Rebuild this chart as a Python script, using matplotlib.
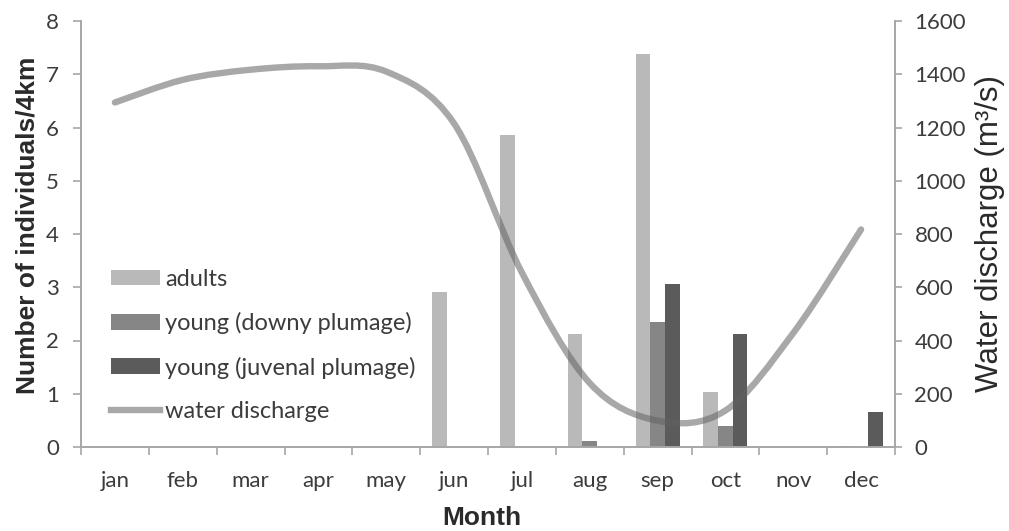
import numpy as np
import matplotlib
matplotlib.use('Agg')
import matplotlib.pyplot as plt
from matplotlib.path import Path
from matplotlib.patches import PathPatch
from matplotlib.lines import Line2D

months = ['jan', 'feb', 'mar', 'apr', 'may', 'jun', 'jul', 'aug', 'sep', 'oct', 'nov', 'dec']
adults = [0, 0, 0, 0, 0, 2.92, 5.86, 2.12, 7.38, 1.04, 0, 0.02]
young_downy = [0, 0, 0, 0, 0, 0, 0, 0.12, 2.35, 0.40, 0, 0]
young_juvenal = [0, 0, 0, 0, 0, 0, 0, 0, 3.06, 2.12, 0, 0.66]
discharge = [1294, 1379, 1417, 1430, 1410, 1215, 655, 240, 99, 137, 428, 817]
series_labels = ['adults', 'young (downy plumage)', 'young (juvenal plumage)']
water_label = 'water discharge'
left_ticks = [0, 1, 2, 3, 4, 5, 6, 7, 8]
right_ticks = [0, 200, 400, 600, 800, 1000, 1200, 1400, 1600]

W, H = 1009, 531
fig = plt.figure(figsize=(W / 100, H / 100), dpi=100)
L, R, B, T = 81, 895, 447, 21
ax = fig.add_axes([L / W, (H - B) / H, (R - L) / W, (B - T) / H])

tick_font = 'Lato'
spine_c = '#a6a6a6'
text_c = '#3c3c3c'

x = np.arange(len(months))
bw = 0.216
colors = ['#b9b9b9', '#868686', '#5b5b5b']
handles = []
for i, (vals, c) in enumerate(zip([adults, young_downy, young_juvenal], colors)):
    h = ax.bar(x + (i - 1) * bw, vals, width=bw, color=c, linewidth=0, zorder=2)
    handles.append(h)

ax.set_xlim(-0.5, len(months) - 0.5)
ax.set_ylim(left_ticks[0], left_ticks[-1])
ax.set_xticks(x)
ax.set_xticklabels(months, fontsize=16, family=tick_font, color=text_c)
ax.set_xticks(np.arange(-0.5, len(months), 1), minor=True)
ax.tick_params(axis='x', which='major', length=0, pad=17)
ax.tick_params(axis='x', which='minor', length=6, width=1.2, color=spine_c, direction='out')
ax.set_yticks(left_ticks)
ax.set_yticklabels([str(v) for v in left_ticks], fontsize=16, family=tick_font, color=text_c)
ax.tick_params(axis='y', length=6, width=1.2, color=spine_c, direction='out', pad=10)

ax.spines['top'].set_visible(False)
for s in ['left', 'bottom', 'right']:
    ax.spines[s].set_color(spine_c)
    ax.spines[s].set_linewidth(1.2)

ax2 = ax.twinx()
ax2.set_ylim(right_ticks[0], right_ticks[-1])
ax2.set_yticks(right_ticks)
ax2.set_yticklabels([str(v) for v in right_ticks], fontsize=16, family=tick_font, color=text_c)
ax2.tick_params(axis='y', length=5, width=1.2, color=spine_c, direction='out', pad=9)
ax2.spines['top'].set_visible(False)
for s in ['left', 'bottom', 'right']:
    ax2.spines[s].set_color(spine_c)
    ax2.spines[s].set_linewidth(1.2)

# smoothed line (Excel-style Bezier through the data points)
pts = np.column_stack([x, discharge]).astype(float)
n = len(pts)
verts = [tuple(pts[0])]
codes = [Path.MOVETO]
for i in range(n - 1):
    p0 = pts[i - 1] if i > 0 else pts[i]
    p1 = pts[i]
    p2 = pts[i + 1]
    p3 = pts[i + 2] if i + 2 < n else pts[i + 1]
    c1 = p1 + (p2 - p0) / 6.0
    c2 = p2 - (p3 - p1) / 6.0
    verts += [tuple(c1), tuple(c2), tuple(p2)]
    codes += [Path.CURVE4] * 3
line_c = '#626262'
line_alpha = 0.55
line_w = 4.6
patch = PathPatch(Path(verts, codes), facecolor='none', edgecolor=line_c, alpha=line_alpha,
                  lw=line_w, capstyle='round', joinstyle='round', transform=ax2.transData, zorder=3)
ax2.add_patch(patch)

line_handle = Line2D([], [], color=line_c, alpha=line_alpha, lw=line_w)
leg = ax2.legend(handles + [line_handle], series_labels + [water_label],
                 loc='upper left', bbox_to_anchor=(0.037, 0.418), frameon=False,
                 prop={'family': tick_font, 'size': 17}, handlelength=2.08, handleheight=0.64,
                 handletextpad=0.2, labelspacing=0.94, borderpad=0, borderaxespad=0)
for t in leg.get_texts():
    t.set_color(text_c)

ax.set_ylabel('Number of individuals/4km', fontsize=19, fontweight='bold',
              family='Liberation Sans', color='#2a2a2a')
ax.yaxis.set_label_coords(-(L - 28) / (R - L), (B - 225) / (B - T))
ax2.set_ylabel('Water discharge (m³/s)', fontsize=22.5, family='Liberation Sans',
               color='#2a2a2a', rotation=90)
ax2.yaxis.set_label_coords((990 - L) / (R - L), (B - 233) / (B - T))
ax.set_xlabel('Month', fontsize=19, fontweight='bold', family='Liberation Sans', color='#2a2a2a')
ax.xaxis.set_label_coords((482 - L) / (R - L), -(518 - B) / (B - T))
ax.xaxis.label.set_verticalalignment('center')
ax.yaxis.label.set_verticalalignment('center')
ax2.yaxis.label.set_verticalalignment('center')

fig.savefig('out.png', dpi=100)
